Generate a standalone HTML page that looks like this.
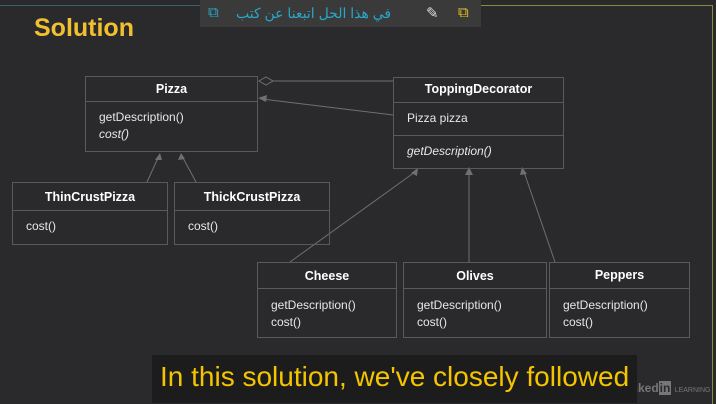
<!DOCTYPE html>
<html><head><meta charset="utf-8"><style>
body{margin:0;width:716px;height:403px;background:#2a292b;position:relative;overflow:hidden;font-family:"Liberation Sans",sans-serif;color:#e8e8e8}
.b{position:absolute;border:1px solid #5a5a5c;box-sizing:border-box}
.h{border-bottom:1px solid #5a5a5c;text-align:center;font-weight:bold;font-size:12.5px;color:#fff;box-sizing:border-box}
.s{font-size:12px;padding-left:13px;line-height:17px;box-sizing:border-box}
.s2{border-top:1px solid #5a5a5c}
</style></head><body>
<div style="position:absolute;left:480px;top:5px;width:232px;height:398px;border-top:1px solid #8a8a40;border-right:1px solid #8a8a40"></div>
<div style="position:absolute;left:0;top:5px;width:200px;border-top:1px solid #3c6070"></div>
<div style="position:absolute;left:34px;top:14px;font-size:25px;font-weight:bold;color:#f0c030">Solution</div>
<div style="position:absolute;left:200px;top:0;width:281px;height:27px;background:#3a3a3a;font-family:'Liberation Sans','Noto Sans CJK SC',sans-serif">
<span style="position:absolute;left:8px;top:4px;color:#2aa6c8;font-size:15px">⧉</span>
<span style="position:absolute;left:36px;top:5px;color:#2aa6c8;font-size:14px" dir="rtl">في هذا الحل اتبعنا عن كتب</span>
<span style="position:absolute;left:226px;top:4px;color:#ddd;font-size:15px">✎</span>
<span style="position:absolute;left:258px;top:4px;color:#e8c020;font-size:15px">⧉</span>
</div>
<svg width="716" height="403" style="position:absolute;left:0;top:0">
<g stroke="#707070" fill="none" stroke-width="1">
<line x1="272" y1="81" x2="393" y2="81"/>
<polygon points="259,81 266,77 273,81 266,85" fill="#2a292b"/>
<line x1="262" y1="99" x2="393" y2="115"/>
<line x1="147" y1="182" x2="158" y2="158"/>
<line x1="196" y1="182" x2="183" y2="158"/>
<line x1="290" y1="262" x2="415" y2="172"/>
<line x1="469" y1="262" x2="469" y2="172"/>
<line x1="555" y1="262" x2="524" y2="172"/>
</g>
<g fill="#707070">
<polygon points="258,98 267,95 266,102"/>
<polygon points="160,153 155,160 162,160"/>
<polygon points="181,153 178,160 185,159"/>
<polygon points="418,168 411,173 417,176"/>
<polygon points="469,167 465,175 473,175"/>
<polygon points="522,167 520,175 527,174"/>
</g></svg>
<div class="b" style="left:85px;top:76px;width:173px;height:76px"><div class="h" style="height:25px;line-height:24px">Pizza</div><div class="s" style="padding-top:7px">getDescription()<br><i>cost()</i></div></div>
<div class="b" style="left:393px;top:77px;width:171px;height:92px"><div class="h" style="height:25px;line-height:22px">ToppingDecorator</div><div class="s" style="height:32px;line-height:31px">Pizza pizza</div><div class="s s2" style="line-height:31px"><i>getDescription()</i></div></div>
<div class="b" style="left:12px;top:182px;width:156px;height:63px"><div class="h" style="height:28px;line-height:28px">ThinCrustPizza</div><div class="s" style="padding-top:7px">cost()</div></div>
<div class="b" style="left:174px;top:182px;width:156px;height:63px"><div class="h" style="height:28px;line-height:28px">ThickCrustPizza</div><div class="s" style="padding-top:7px">cost()</div></div>
<div class="b" style="left:257px;top:262px;width:140px;height:76px"><div class="h" style="height:26px;line-height:26px">Cheese</div><div class="s" style="padding-top:8px">getDescription()<br>cost()</div></div>
<div class="b" style="left:403px;top:262px;width:144px;height:76px"><div class="h" style="height:26px;line-height:26px">Olives</div><div class="s" style="padding-top:8px">getDescription()<br>cost()</div></div>
<div class="b" style="left:549px;top:262px;width:141px;height:76px"><div class="h" style="height:26px;line-height:24px">Peppers</div><div class="s" style="padding-top:8px">getDescription()<br>cost()</div></div>
<div style="position:absolute;left:620px;top:381px;font-size:12px;color:#777;font-weight:bold;white-space:nowrap">Linked<span style="background:#777;color:#2a292b;padding:0 1px">in</span> <span style="font-size:7px;font-weight:normal">LEARNING</span></div>
<div style="position:absolute;left:152px;top:355px;width:485px;height:48px;background:#1c1c1c"></div>
<div style="position:absolute;left:160px;top:361px;font-size:28px;color:#f5c400;white-space:nowrap">In this solution, we've closely followed</div>
</body></html>
